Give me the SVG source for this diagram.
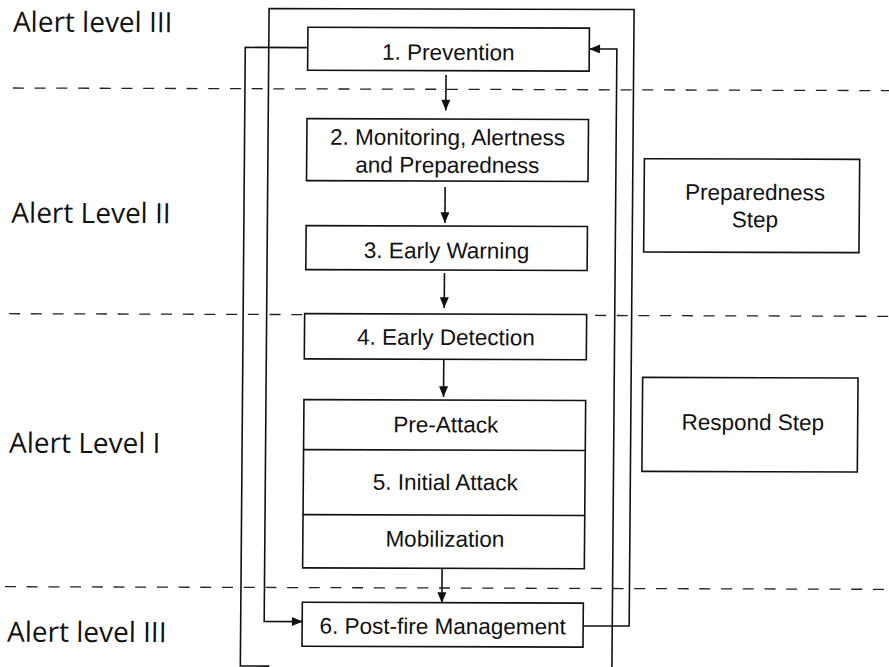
<svg xmlns="http://www.w3.org/2000/svg" width="889" height="667" viewBox="0 0 889 667">
  <style>
    .box { fill: #ffffff; stroke: #111111; stroke-width: 1.6; }
    .node-text { font-family: "Liberation Sans", Arial, sans-serif; font-size: 22.5px; fill: #111111; text-anchor: middle; }
    .level { font-family: "Open Sans", "Noto Sans", sans-serif; font-size: 28px; fill: #111111; }
    .divider { fill: none; stroke: #222222; stroke-width: 1.3; stroke-dasharray: 11 10.7; }
    .wire { fill: none; stroke: #111111; stroke-width: 1.6; }
    .arrow { fill: none; stroke: #111111; stroke-width: 1.6; marker-end: url(#head); }
  </style>
  <defs>
    <marker id="head" viewBox="0 0 12 10" refX="12" refY="5" markerWidth="12" markerHeight="9" orient="auto" markerUnits="userSpaceOnUse">
      <path d="M0,0 L12,5 L0,10 z" fill="#111111"/>
    </marker>
  </defs>
  <rect x="0" y="0" width="889" height="667" fill="#ffffff"/>

  <!-- whole sheet sits slightly askew -->
  <g transform="matrix(1 0.003 -0.008 1 2.664 -1.332)">

    <!-- alert level bands -->
    <g id="bands">
      <line class="divider" x1="11" y1="89.3" x2="895" y2="89.3"/>
      <line class="divider" x1="9" y1="315" x2="895" y2="315"/>
      <line class="divider" x1="7" y1="588" x2="895" y2="588"/>
      <text class="level" x="10.5" y="33">Alert level III</text>
      <text class="level" x="10.5" y="224">Alert Level II</text>
      <text class="level" x="10" y="454">Alert Level I</text>
      <text class="level" x="9.5" y="643">Alert level III</text>
    </g>

    <!-- connectors -->
    <g id="connectors">
      <!-- post-fire management loops back over the top -->
      <path class="arrow" d="M586,625.5 H631.5 V9 H266.5 V622 H305"/>
      <!-- prevention loop running under the sheet -->
      <path class="wire" d="M305,48 H243 V666.6 H272"/>
      <path class="arrow" d="M614.6,670 V48.5 H587"/>
      <!-- main sequence -->
      <line class="arrow" x1="444" y1="75" x2="444" y2="110.5"/>
      <line class="arrow" x1="444" y1="187" x2="444" y2="223"/>
      <line class="arrow" x1="444" y1="273" x2="444" y2="308"/>
      <line class="arrow" x1="444" y1="359.5" x2="444" y2="397"/>
      <line class="arrow" x1="444" y1="568.5" x2="444" y2="603"/>
    </g>

    <g id="prevention">
      <rect class="box" x="305.5" y="27.7" width="281.5" height="43"/>
      <text class="node-text" x="446" y="60">1. Prevention</text>
    </g>

    <g id="monitoring">
      <rect class="box" x="305.3" y="119" width="281.5" height="62"/>
      <text class="node-text" x="446" y="145">2. Monitoring, Alertness</text>
      <text class="node-text" x="446" y="172.7">and Preparedness</text>
    </g>

    <g id="early-warning">
      <rect class="box" x="305.3" y="226" width="281.3" height="44"/>
      <text class="node-text" x="446" y="258.3">3. Early Warning</text>
    </g>

    <g id="early-detection">
      <rect class="box" x="304.5" y="314" width="282" height="45.3"/>
      <text class="node-text" x="446" y="345">4. Early Detection</text>
    </g>

    <g id="initial-attack">
      <rect class="box" x="304.5" y="400" width="281.7" height="168.3"/>
      <line class="wire" x1="304.5" y1="450" x2="586.2" y2="450"/>
      <line class="wire" x1="304.5" y1="515" x2="586.2" y2="515"/>
      <text class="node-text" x="446.5" y="432.3">Pre-Attack</text>
      <text class="node-text" x="446.5" y="490">5. Initial Attack</text>
      <text class="node-text" x="446.5" y="546.7">Mobilization</text>
    </g>

    <g id="post-fire">
      <rect class="box" x="304.5" y="602.7" width="281" height="44"/>
      <text class="node-text" x="445" y="634">6. Post-fire Management</text>
    </g>

    <g id="preparedness-step">
      <rect class="box" x="643" y="158.1" width="215.3" height="93.3"/>
      <text class="node-text" x="754" y="199.1">Preparedness</text>
      <text class="node-text" x="754" y="226.4">Step</text>
    </g>

    <g id="respond-step">
      <rect class="box" x="643" y="376.8" width="215.4" height="94"/>
      <text class="node-text" x="753.5" y="429.1">Respond Step</text>
    </g>
  </g>
</svg>
